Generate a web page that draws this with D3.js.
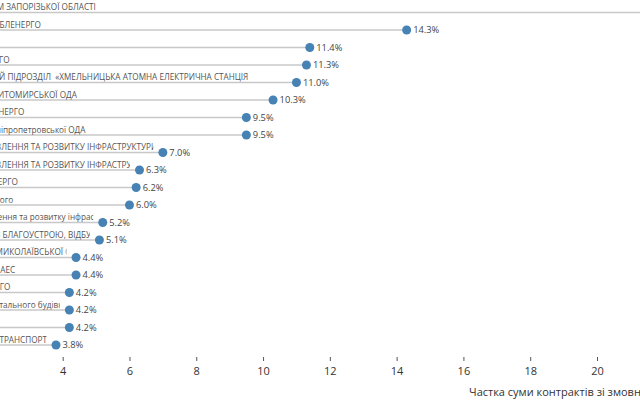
<!DOCTYPE html>
<html>
<head>
<meta charset="utf-8">
<script src="https://cdn.jsdelivr.net/npm/d3@7"></script>
<style>
  html, body { margin: 0; padding: 0; background: #fff; }
  svg { display: block; font-family: "Open Sans", sans-serif; }
  .row-label { white-space: pre; }
</style>
</head>
<body>
<svg id="chart" width="640" height="400"></svg>
<script>
// ---- data ----
const labels = [
  "ОБЛАВТОДОРОМ ЗАПОРІЗЬКОЇ ОБЛАСТІ",
  "ПРАТ ЧЕРНІГІВОБЛЕНЕРГО",
  "ПАТ ОДЕСАГАЗ",
  "ПАТ ЦЕНТРЕНЕРГО",
  "ВІДОКРЕМЛЕНИЙ ПІДРОЗДІЛ  «ХМЕЛЬНИЦЬКА АТОМНА ЕЛЕКТРИЧНА СТАНЦІЯ",
  "УПРАВЛІННЯ  ЖИТОМИРСЬКОЇ ОДА",
  "ПРАТ КИЇВОБЛЕНЕРГО",
  "Департамент Дніпропетровської ОДА",
  "СЛУЖБА ВІДНОВЛЕННЯ ТА РОЗВИТКУ ІНФРАСТРУКТУРИ У ВОЛИНСЬКІЙ ОБЛАСТІ",
  "СЛУЖБА ВІДНОВЛЕННЯ ТА РОЗВИТКУ ІНФРАСТРУКТУРИ У ХЕРСОНСЬКІЙ ОБЛАСТІ",
  "АТ РІВНЕОБЛЕНЕРГО",
  "КНП Дніпровського",
  "Служба відновлення та розвитку інфраструктури у Київській області",
  "ДЕПАРТАМЕНТ З БЛАГОУСТРОЮ, ВІДБУДОВИ ТА ЖКГ",
  "ДЕПАРТАМЕНТ МИКОЛАЇВСЬКОЇ ОБЛАСНОЇ РАДИ",
  "ВП РІВНЕНСЬКА АЕС",
  "ПРАТ ДТЕК ЕНЕРГО",
  "Управління капітального будівництва",
  "ДП «АРТЕМ»",
  "КП ГОРЕЛЕКТРОТРАНСПОРТ"
];
const values = [22.3, 14.3, 11.4, 11.3, 11.0, 10.3, 9.5, 9.5, 7.0, 6.3, 6.2, 6.0, 5.2, 5.1, 4.4, 4.4, 4.2, 4.2, 4.2, 3.8];
const tickValues = [0, 2, 4, 6, 8, 10, 12, 14, 16, 18, 20, 22];
const axisTitle = "Частка суми контрактів зі змовниками, %";

// ---- layout ----
const svg = d3.select("#chart");
const x = d3.scaleLinear().domain([0, 20]).range([-70.9, 597]);
const y = d3.scalePoint().domain(d3.range(labels.length)).range([12.5, 345]);
const fmt = d3.format(".1f");

const defs = svg.append("defs");
const rows = svg.append("g").selectAll("g.row")
  .data(values.map((v, i) => ({ v, i, label: labels[i] })))
  .join("g").attr("class", "row");

rows.each(function (d) {
  defs.append("clipPath").attr("id", "clip" + d.i)
    .append("rect")
    .attr("x", x(0) - 20)
    .attr("y", y(d.i) - 16)
    .attr("width", Math.max(0, x(d.v) - 9.5 - (x(0) - 20)))
    .attr("height", 16);
});

rows.append("line")
  .attr("x1", x(0))
  .attr("x2", d => x(d.v))
  .attr("y1", d => y(d.i))
  .attr("y2", d => y(d.i))
  .attr("stroke", "#c8c8c8")
  .attr("stroke-width", 1.3);

rows.append("text")
  .attr("class", "row-label")
  .attr("clip-path", d => `url(#clip${d.i})`)
  .attr("x", x(0) + 6)
  .attr("y", d => y(d.i) - 2.5)
  .attr("font-size", 8.2)
  .attr("fill", "#555")
  .text(d => d.label);

rows.append("circle")
  .attr("cx", d => x(d.v))
  .attr("cy", d => y(d.i))
  .attr("r", 4.5)
  .attr("fill", "#4682b4");

rows.append("text")
  .attr("x", d => x(d.v) + 6.5)
  .attr("y", d => y(d.i))
  .attr("dy", "0.35em")
  .attr("font-size", 9.3)
  .attr("fill", "#444")
  .text(d => fmt(d.v) + "%");

// ---- axis ----
const axis = svg.append("g")
  .attr("transform", "translate(0,357)")
  .call(d3.axisBottom(x).tickValues(tickValues).tickSize(4).tickPadding(6).tickFormat(d3.format("d")));
axis.select(".domain").remove();
axis.selectAll(".tick line").attr("stroke", "#555");
axis.selectAll(".tick text").attr("font-size", 11).attr("fill", "#333")
  .attr("font-family", "Open Sans, sans-serif");

svg.append("text")
  .attr("x", 469)
  .attr("y", 396)
  .attr("font-size", 11)
  .attr("fill", "#333")
  .text(axisTitle);
</script>
</body>
</html>
